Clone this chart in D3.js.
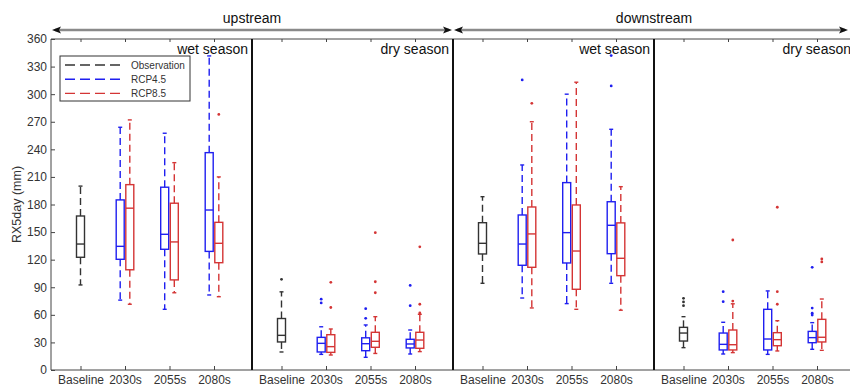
<!DOCTYPE html>
<html>
<head>
<meta charset="utf-8">
<script src="https://cdn.jsdelivr.net/npm/d3@7"></script>
<style>
  body { margin: 0; background: #fff; }
  svg { font-family: "Liberation Sans", Arial, sans-serif; display: block; }
  .axis .domain { display: none; }
  .axis line { stroke: #444; }
  .axis text { fill: #333; font-size: 12px; }
</style>
</head>
<body>
<div id="chart"></div>
<script>
// ---- data ----
var categories = ["Baseline", "2030s", "2055s", "2080s"];
var panels = ["upstream wet", "upstream dry", "downstream wet", "downstream dry"];
var seasonLabels = ["wet season", "dry season", "wet season", "dry season"];
var regionLabels = ["upstream", "downstream"];
var seriesNames = ["Observation", "RCP4.5", "RCP8.5"];
var yTicks = [0, 30, 60, 90, 120, 150, 180, 210, 240, 270, 300, 330, 360];

// box stats: [lower whisker, q1, median, q3, upper whisker], one per panel
var obsBoxes = [
  [92.5, 122.6, 137, 167.5, 200],
  [19.6, 30.5, 37.7, 56, 85],
  [94.3, 126.2, 137.8, 160.2, 188.5],
  [24.3, 31.5, 40.2, 46.4, 58]
];
var obsOutliers = [[], [98.6], [], [70, 74, 78]];

// per panel: 2030s, 2055s, 2080s
var rcp45Boxes = [
  [[76, 120.4, 134.5, 185, 264], [66, 131.3, 147.6, 198.8, 257.5], [81.6, 129, 174, 236.4, 341.6]],
  [[17, 19.6, 29, 35.5, 47], [13.8, 21, 28.6, 35, 49], [17.4, 24, 28.3, 33.4, 43.5]],
  [[78.3, 113.9, 137, 168.6, 223], [72.2, 116.4, 149.4, 203.8, 300], [94.3, 126.5, 157.4, 183, 261.8]],
  [[17.4, 21.8, 27.9, 40.2, 51.9], [17, 21.8, 33.7, 66, 86], [22.5, 29.7, 35.2, 42, 51.5]]
];
var rcp45Outliers = [
  [[], [], []],
  [[77, 73], [66.7, 56.2], [92, 70]],
  [[315.5], [], [342, 309]],
  [[85.2, 74.3], [], [111.7, 67.4, 61.7, 59.8]]
];

var rcp85Boxes = [
  [[71.5, 109, 176, 201.6, 272], [84, 98, 139.3, 181.4, 225.5], [79.7, 116.7, 137.8, 160.6, 210]],
  [[16.3, 19.2, 25.4, 38.4, 44.6], [18, 24.7, 31.2, 41, 58], [20, 23.6, 32.6, 41, 60.6]],
  [[67.5, 111.7, 148, 177.3, 270], [66, 87.8, 129.4, 179.5, 313], [65, 102.6, 121.5, 160, 199.4]],
  [[18.9, 21.8, 27.5, 43.5, 72], [20.7, 26.4, 33, 40.6, 53.6], [21.4, 30.5, 35.6, 55.1, 77.2]]
];
var rcp85Outliers = [
  [[], [], [278]],
  [[95.4, 68], [149.4, 96, 84], [134, 71.5, 62]],
  [[290], [], []],
  [[141.4, 75], [177, 85.2, 71.5], [120.7, 117.5]]
];

// ---- build the list of boxes ----
var boxes = [];
panels.forEach(function(p, pi) {
  boxes.push({ panel: p, cat: categories[0], series: 0, stats: obsBoxes[pi], out: obsOutliers[pi] });
  for (var i = 0; i < 3; i++) {
    boxes.push({ panel: p, cat: categories[i + 1], series: 1, stats: rcp45Boxes[pi][i], out: rcp45Outliers[pi][i] });
    boxes.push({ panel: p, cat: categories[i + 1], series: 2, stats: rcp85Boxes[pi][i], out: rcp85Outliers[pi][i] });
  }
});

var colors = ["#333333", "#1f1ff0", "#d43535"];
var offsets = [0, -4.8, 4.8];
var boxW = 8;
var capW = 4;

var W = 850, H = 386;
var plotTop = 39, plotBottom = 370, plotLeft = 51;

var svg = d3.select("#chart").append("svg")
  .attr("width", W)
  .attr("height", H);

// Scales
var x0 = d3.scaleBand().domain(panels).range([plotLeft, plotLeft + 4 * 201]);
var x1 = d3.scalePoint().domain(categories).range([29.5, 163]);
var y = d3.scaleLinear().domain([0, 360]).range([plotBottom, plotTop]);

var bx = function(d) { return x0(d.panel) + x1(d.cat) + offsets[d.series]; };

// frame
svg.append("line")
  .attr("x1", plotLeft).attr("x2", x0.range()[1])
  .attr("y1", plotTop).attr("y2", plotTop)
  .attr("stroke", "#444").attr("stroke-width", 1);
svg.append("line")
  .attr("x1", plotLeft).attr("x2", x0.range()[1])
  .attr("y1", plotBottom).attr("y2", plotBottom)
  .attr("stroke", "#444").attr("stroke-width", 1);

// Y axis (ticks pointing inward)
svg.append("g")
  .attr("class", "axis")
  .attr("transform", "translate(" + plotLeft + ",0)")
  .call(d3.axisLeft(y).tickValues(yTicks).tickSize(-4).tickPadding(4));
svg.append("line")
  .attr("x1", plotLeft).attr("x2", plotLeft)
  .attr("y1", plotTop).attr("y2", plotBottom)
  .attr("stroke", "#444");

// X axes per panel, bottom labels + top ticks
panels.forEach(function(p) {
  svg.append("g")
    .attr("class", "axis")
    .attr("transform", "translate(" + x0(p) + "," + plotBottom + ")")
    .call(d3.axisBottom(x1).tickSize(-4).tickPadding(5));
  svg.append("g")
    .attr("class", "axis")
    .attr("transform", "translate(" + x0(p) + "," + plotTop + ")")
    .call(d3.axisTop(x1).tickSize(-3).tickFormat(""));
});

// panel dividers
svg.selectAll(".divider")
  .data(panels.slice(1))
  .enter().append("line")
  .attr("x1", d => x0(d)).attr("x2", d => x0(d))
  .attr("y1", plotTop).attr("y2", plotBottom)
  .attr("stroke", "#111").attr("stroke-width", 2);

// season labels
svg.selectAll(".season")
  .data(panels)
  .enter().append("text")
  .attr("x", d => x0(d) + x0.bandwidth() - 4)
  .attr("y", 53.5)
  .attr("text-anchor", "end")
  .attr("font-size", 14)
  .attr("fill", "#111")
  .text((d, i) => seasonLabels[i]);

// y title
svg.append("text")
  .attr("transform", "translate(17," + ((plotTop + plotBottom) / 2) + ") rotate(-90)")
  .attr("text-anchor", "middle")
  .attr("dy", "0.35em")
  .attr("font-size", 12.5)
  .attr("fill", "#333")
  .text("RX5day (mm)");

// Boxplots
var g = svg.append("g");
var bg = g.selectAll(".box")
  .data(boxes)
  .enter().append("g");

// whiskers (dashed)
bg.append("line")
  .attr("x1", bx).attr("x2", bx)
  .attr("y1", d => y(d.stats[3])).attr("y2", d => y(d.stats[4]))
  .attr("stroke", d => colors[d.series]).attr("stroke-width", 1.4)
  .attr("stroke-dasharray", "7,4");
bg.append("line")
  .attr("x1", bx).attr("x2", bx)
  .attr("y1", d => y(d.stats[1])).attr("y2", d => y(d.stats[0]))
  .attr("stroke", d => colors[d.series]).attr("stroke-width", 1.4)
  .attr("stroke-dasharray", "7,4");
// caps
[0, 4].forEach(function(k) {
  bg.append("line")
    .attr("x1", d => bx(d) - capW / 2).attr("x2", d => bx(d) + capW / 2)
    .attr("y1", d => y(d.stats[k])).attr("y2", d => y(d.stats[k]))
    .attr("stroke", d => colors[d.series]).attr("stroke-width", 1.4);
});
// box
bg.append("rect")
  .attr("x", d => bx(d) - boxW / 2)
  .attr("width", boxW)
  .attr("y", d => y(d.stats[3]))
  .attr("height", d => y(d.stats[1]) - y(d.stats[3]))
  .attr("fill", "none")
  .attr("stroke", d => colors[d.series]).attr("stroke-width", 1.4);
// median
bg.append("line")
  .attr("x1", d => bx(d) - boxW / 2).attr("x2", d => bx(d) + boxW / 2)
  .attr("y1", d => y(d.stats[2])).attr("y2", d => y(d.stats[2]))
  .attr("stroke", d => colors[d.series]).attr("stroke-width", 1.4);
// outliers
bg.selectAll(".out")
  .data(d => d.out.map(v => ({ v: v, d: d })))
  .enter().append("circle")
  .attr("cx", o => bx(o.d))
  .attr("cy", o => y(o.v))
  .attr("r", 1.4)
  .attr("fill", o => colors[o.d.series]);

// Legend
var leg = svg.append("g").attr("transform", "translate(60,56)");
leg.append("rect")
  .attr("width", 130).attr("height", 45)
  .attr("fill", "#fff").attr("stroke", "#333").attr("stroke-width", 1);
seriesNames.forEach(function(s, i) {
  leg.append("line")
    .attr("x1", 5).attr("x2", 63)
    .attr("y1", 9 + i * 14.2).attr("y2", 9 + i * 14.2)
    .attr("stroke", colors[i]).attr("stroke-width", 1.4)
    .attr("stroke-dasharray", "10,5");
  leg.append("text")
    .attr("x", 71).attr("y", 9 + i * 14.2)
    .attr("dy", "0.35em")
    .attr("font-size", 10)
    .attr("fill", "#333")
    .text(s);
});

// region arrows on top
var arrowY = 30;
var regions = [
  { label: regionLabels[0], x1: x0(panels[0]), x2: x0(panels[2]), mid: x0(panels[1]) },
  { label: regionLabels[1], x1: x0(panels[2]), x2: 849, mid: x0(panels[3]) }
];
regions.forEach(function(r) {
  svg.append("line")
    .attr("x1", r.x1 + 4).attr("x2", r.x2 - 4)
    .attr("y1", arrowY).attr("y2", arrowY)
    .attr("stroke", "#8a8a8a").attr("stroke-width", 2.5);
  // left head
  svg.append("path")
    .attr("d", "M" + (r.x1 + 1) + "," + arrowY + "L" + (r.x1 + 10) + "," + (arrowY - 3.5) +
      "L" + (r.x1 + 8) + "," + arrowY + "L" + (r.x1 + 10) + "," + (arrowY + 3.5) + "Z")
    .attr("fill", "#111");
  // right head
  svg.append("path")
    .attr("d", "M" + (r.x2 - 1) + "," + arrowY + "L" + (r.x2 - 10) + "," + (arrowY - 3.5) +
      "L" + (r.x2 - 8) + "," + arrowY + "L" + (r.x2 - 10) + "," + (arrowY + 3.5) + "Z")
    .attr("fill", "#111");
  svg.append("text")
    .attr("x", r.mid)
    .attr("y", 23)
    .attr("text-anchor", "middle")
    .attr("font-size", 14)
    .attr("fill", "#111")
    .text(r.label);
});
</script>
</body>
</html>
